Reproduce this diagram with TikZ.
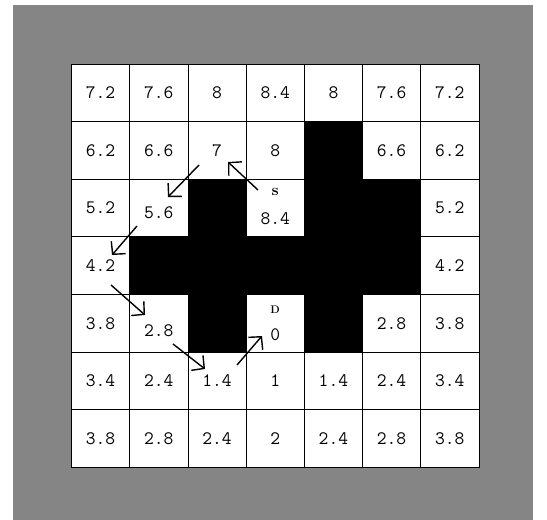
\documentclass[tikz,border=0pt]{standalone}
\usetikzlibrary{arrows.meta}
\tikzset{
  num/.style={font=\fontsize{19}{22}\selectfont\ttfamily},
  cell/.style={draw, line width=0.8pt, fill=white, minimum width=58.2pt, minimum height=57.6pt, inner sep=0pt, num},
  wall/.style={cell, fill=black},
  tag/.style={font=\fontsize{11}{11}\selectfont\bfseries},
  move/.style={->, line width=1.4pt}
}
\begin{document}
\begin{tikzpicture}[x=1pt, y=1pt, >={Straight Barb[length=9pt,width=19pt]}]
\useasboundingbox (0,0) rectangle (547,520);
\fill[black!48] (13,0) rectangle (533,515);

\node (r0c0) at (100.6,427.2) [cell] {7.2};
\node (r0c1) at (158.8,427.2) [cell] {7.6};
\node (r0c2) at (217.0,427.2) [cell] {8};
\node (r0c3) at (275.2,427.2) [cell] {8.4};
\node (r0c4) at (333.4,427.2) [cell] {8};
\node (r0c5) at (391.6,427.2) [cell] {7.6};
\node (r0c6) at (449.8,427.2) [cell] {7.2};

\node (r1c0) at (100.6,369.6) [cell] {6.2};
\node (r1c1) at (158.8,369.6) [cell] {6.6};
\node (r1c2) at (217.0,369.6) [cell] {7};
\node (r1c3) at (275.2,369.6) [cell] {8};
\node (r1c4) at (333.4,369.6) [wall] {};
\node (r1c5) at (391.6,369.6) [cell] {6.6};
\node (r1c6) at (449.8,369.6) [cell] {6.2};

\node (r2c0) at (100.6,312.0) [cell] {5.2};
\node (r2c1) at (158.8,312.0) [cell] {};
\node (r2c2) at (217.0,312.0) [wall] {};
\node (r2c3) at (275.2,312.0) [cell] {};
\node (r2c4) at (333.4,312.0) [wall] {};
\node (r2c5) at (391.6,312.0) [wall] {};
\node (r2c6) at (449.8,312.0) [cell] {5.2};

\node (r3c0) at (100.6,254.4) [cell] {4.2};
\node (r3c1) at (158.8,254.4) [wall] {};
\node (r3c2) at (217.0,254.4) [wall] {};
\node (r3c3) at (275.2,254.4) [wall] {};
\node (r3c4) at (333.4,254.4) [wall] {};
\node (r3c5) at (391.6,254.4) [wall] {};
\node (r3c6) at (449.8,254.4) [cell] {4.2};

\node (r4c0) at (100.6,196.8) [cell] {3.8};
\node (r4c1) at (158.8,196.8) [cell] {};
\node (r4c2) at (217.0,196.8) [wall] {};
\node (r4c3) at (275.2,196.8) [cell] {};
\node (r4c4) at (333.4,196.8) [wall] {};
\node (r4c5) at (391.6,196.8) [cell] {2.8};
\node (r4c6) at (449.8,196.8) [cell] {3.8};

\node (r5c0) at (100.6,139.2) [cell] {3.4};
\node (r5c1) at (158.8,139.2) [cell] {2.4};
\node (r5c2) at (217.0,139.2) [cell] {1.4};
\node (r5c3) at (275.2,139.2) [cell] {1};
\node (r5c4) at (333.4,139.2) [cell] {1.4};
\node (r5c5) at (391.6,139.2) [cell] {2.4};
\node (r5c6) at (449.8,139.2) [cell] {3.4};

\node (r6c0) at (100.6,81.6) [cell] {3.8};
\node (r6c1) at (158.8,81.6) [cell] {2.8};
\node (r6c2) at (217.0,81.6) [cell] {2.4};
\node (r6c3) at (275.2,81.6) [cell] {2};
\node (r6c4) at (333.4,81.6) [cell] {2.4};
\node (r6c5) at (391.6,81.6) [cell] {2.8};
\node (r6c6) at (449.8,81.6) [cell] {3.8};

\node (midval) at (158.8,307) [num] {5.6};
\node (stepval) at (158.8,189) [num] {2.8};
\node (start) at (275.2,328) [tag, font=\fontsize{16}{16}\selectfont\bfseries] {s};
\node (startval) at (275.2,301) [num] {8.4};
\node (goal) at (275.2,210) [tag] {D};
\node (goalval) at (275.2,185) [num] {0};

\coordinate (from1) at (258,330); \coordinate (to1) at (228,358);
\coordinate (from2) at (199,355); \coordinate (to2) at (168,323);
\coordinate (from3) at (137,294); \coordinate (to3) at (112,265);
\coordinate (from4) at (111,235); \coordinate (to4) at (145,205);
\coordinate (from5) at (173,176); \coordinate (to5) at (205,151);
\coordinate (from6) at (237,155); \coordinate (to6) at (262,184);

\draw[move] (from1) -- (to1);
\draw[move] (from2) -- (to2);
\draw[move] (from3) -- (to3);
\draw[move] (from4) -- (to4);
\draw[move] (from5) -- (to5);
\draw[move] (from6) -- (to6);
\end{tikzpicture}
\end{document}
